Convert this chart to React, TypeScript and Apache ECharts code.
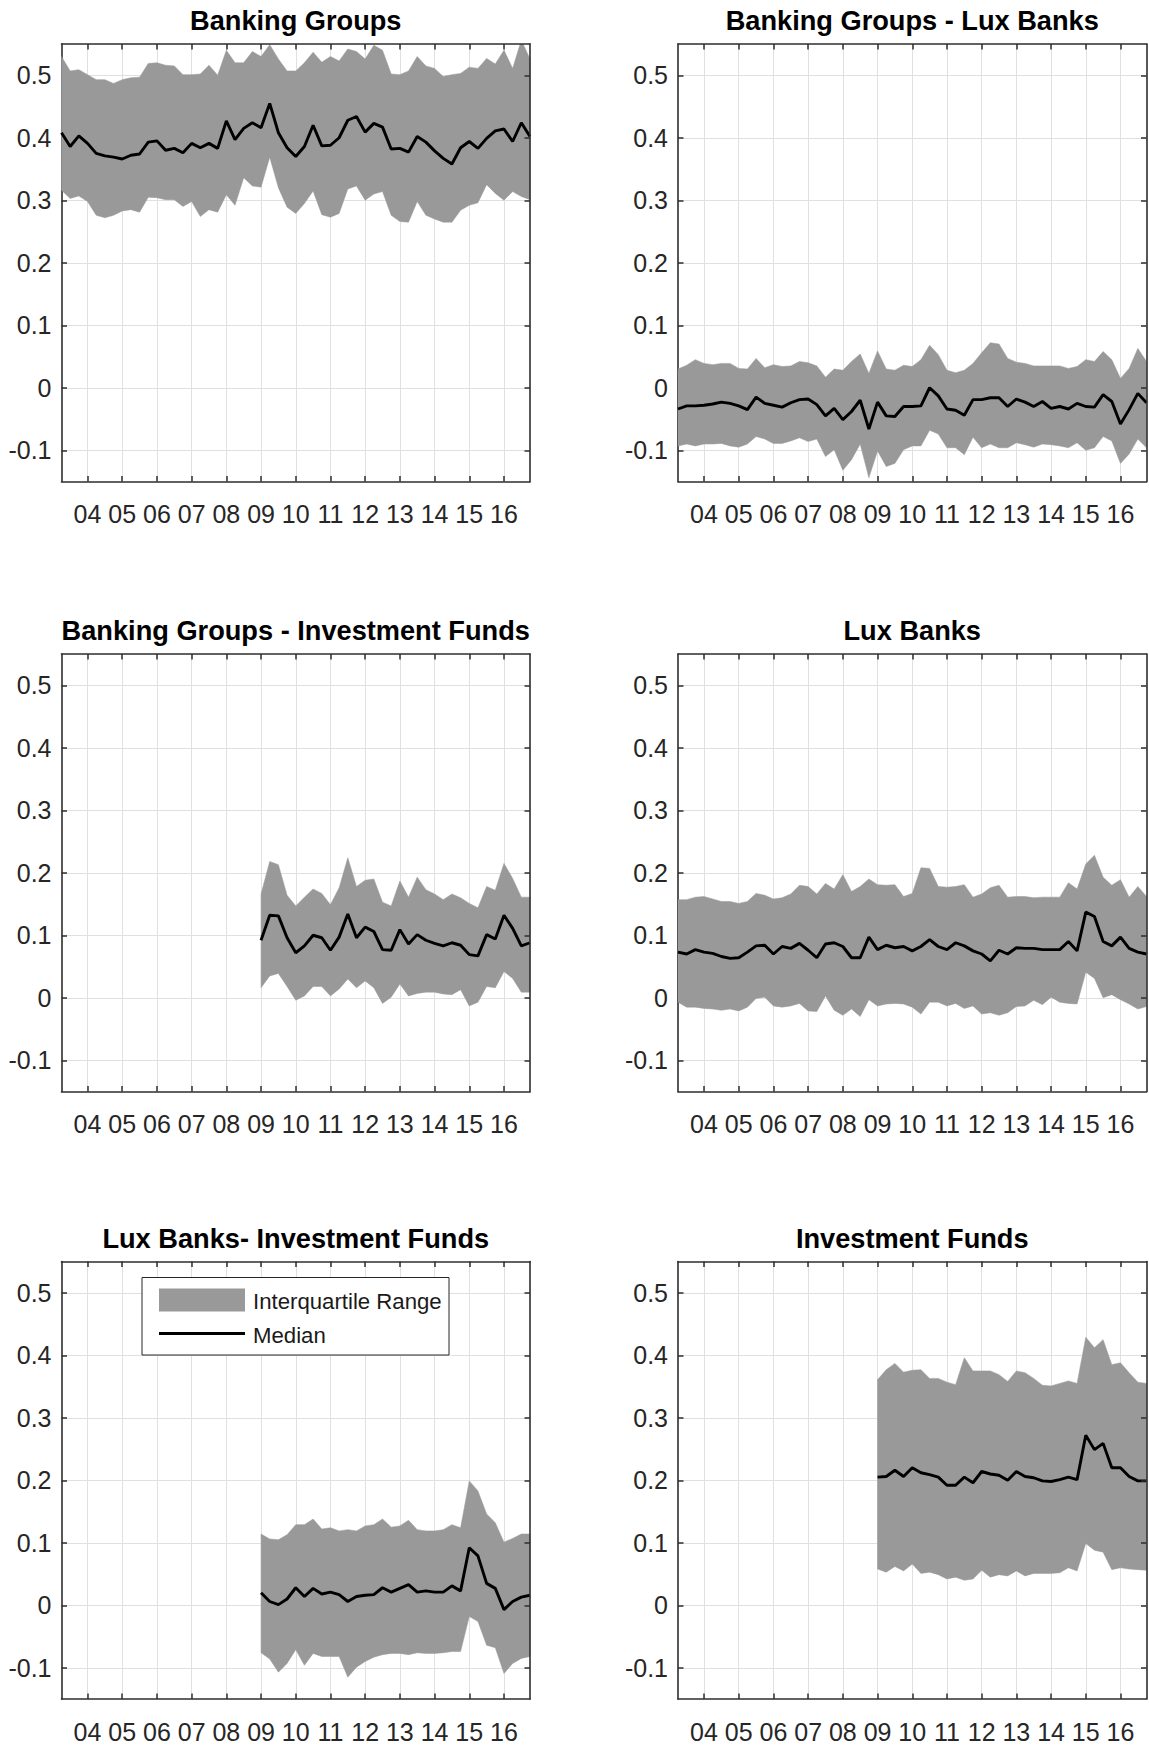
import React, { useEffect, useRef } from "react";
import * as echarts from "echarts";

// ---------- data ----------
const QUARTERS: string[] = [];
for (let y = 2003; y <= 2016; y++) {
  for (let q = 1; q <= 4; q++) {
    if (!(y === 2003 && q === 1)) QUARTERS.push(`${y}Q${q}`);
  }
}
const TICK_YEARS = [2004, 2005, 2006, 2007, 2008, 2009, 2010, 2011, 2012, 2013, 2014, 2015, 2016];
const TICK_LABELS = ["04", "05", "06", "07", "08", "09", "10", "11", "12", "13", "14", "15", "16"];
const Y_TICKS = [-0.1, 0, 0.1, 0.2, 0.3, 0.4, 0.5];
const Y_MIN = -0.15;
const Y_MAX = 0.55;

const FULL_START = "2003Q2";
const LATE_START = "2009Q1";

// Banking Groups
const bgMed = [0.408,0.386,0.403,0.391,0.375,0.371,0.369,0.366,0.372,0.374,0.393,0.395,0.380,0.383,0.376,0.391,0.384,0.391,0.383,0.427,0.397,0.415,0.424,0.416,0.455,0.408,0.384,0.370,0.386,0.420,0.387,0.388,0.400,0.428,0.434,0.409,0.423,0.417,0.382,0.383,0.377,0.402,0.393,0.379,0.367,0.358,0.384,0.394,0.383,0.399,0.411,0.414,0.394,0.424,0.402];
const bgHi = [0.530,0.507,0.509,0.501,0.493,0.493,0.487,0.493,0.496,0.497,0.519,0.520,0.516,0.515,0.501,0.501,0.502,0.516,0.500,0.540,0.520,0.520,0.538,0.530,0.549,0.526,0.507,0.507,0.520,0.537,0.521,0.530,0.523,0.542,0.538,0.526,0.548,0.540,0.502,0.501,0.507,0.530,0.515,0.511,0.498,0.501,0.503,0.513,0.511,0.527,0.518,0.540,0.511,0.556,0.526];
const bgLo = [0.316,0.303,0.307,0.298,0.276,0.272,0.276,0.283,0.285,0.281,0.305,0.304,0.301,0.301,0.290,0.298,0.274,0.285,0.281,0.309,0.292,0.336,0.323,0.321,0.369,0.320,0.289,0.279,0.295,0.315,0.277,0.273,0.279,0.318,0.323,0.300,0.310,0.314,0.276,0.266,0.265,0.298,0.276,0.270,0.265,0.265,0.284,0.292,0.296,0.325,0.311,0.300,0.314,0.306,0.301];

// Banking Groups - Lux Banks
const bgLuxMed = [-0.034,-0.029,-0.029,-0.028,-0.026,-0.023,-0.025,-0.029,-0.035,-0.015,-0.025,-0.028,-0.031,-0.024,-0.019,-0.018,-0.027,-0.045,-0.033,-0.051,-0.038,-0.020,-0.066,-0.023,-0.045,-0.046,-0.030,-0.030,-0.029,0.000,-0.013,-0.034,-0.036,-0.044,-0.019,-0.019,-0.016,-0.016,-0.030,-0.018,-0.023,-0.030,-0.022,-0.033,-0.030,-0.034,-0.025,-0.030,-0.031,-0.011,-0.022,-0.058,-0.035,-0.009,-0.024];
const bgLuxHi = [0.030,0.036,0.045,0.039,0.037,0.039,0.039,0.031,0.030,0.047,0.032,0.037,0.034,0.035,0.042,0.040,0.035,0.017,0.030,0.028,0.042,0.054,0.023,0.059,0.030,0.028,0.036,0.034,0.045,0.068,0.053,0.028,0.024,0.028,0.039,0.056,0.072,0.070,0.047,0.041,0.039,0.035,0.035,0.035,0.035,0.031,0.034,0.045,0.042,0.058,0.045,0.015,0.031,0.063,0.042];
const bgLuxLo = [-0.093,-0.090,-0.093,-0.090,-0.090,-0.089,-0.093,-0.095,-0.090,-0.078,-0.082,-0.089,-0.089,-0.085,-0.080,-0.086,-0.082,-0.110,-0.099,-0.132,-0.115,-0.090,-0.144,-0.101,-0.126,-0.121,-0.099,-0.093,-0.093,-0.068,-0.074,-0.096,-0.096,-0.107,-0.079,-0.096,-0.090,-0.096,-0.096,-0.088,-0.091,-0.095,-0.090,-0.091,-0.093,-0.096,-0.088,-0.100,-0.096,-0.078,-0.085,-0.121,-0.106,-0.082,-0.096];

// Banking Groups - Investment Funds (from 2009Q1)
const bgIfMed = [0.092,0.132,0.131,0.096,0.072,0.083,0.100,0.096,0.076,0.097,0.134,0.096,0.113,0.106,0.077,0.076,0.109,0.086,0.101,0.092,0.087,0.083,0.088,0.084,0.069,0.067,0.101,0.094,0.132,0.111,0.083,0.088];
const bgIfHi = [0.166,0.218,0.213,0.164,0.147,0.161,0.174,0.167,0.149,0.176,0.224,0.178,0.188,0.190,0.153,0.147,0.187,0.161,0.193,0.173,0.166,0.157,0.166,0.160,0.151,0.144,0.178,0.172,0.215,0.191,0.161,0.161];
const bgIfLo = [0.016,0.035,0.039,0.018,-0.004,0.003,0.018,0.018,0.003,0.014,0.030,0.016,0.027,0.016,-0.009,0.001,0.022,0.003,0.007,0.009,0.009,0.006,0.005,0.013,-0.013,-0.007,0.018,0.016,0.042,0.031,0.009,0.009];

// Lux Banks
const luxMed = [0.073,0.070,0.077,0.073,0.071,0.066,0.063,0.064,0.073,0.083,0.084,0.070,0.082,0.079,0.087,0.076,0.064,0.086,0.088,0.082,0.064,0.064,0.097,0.077,0.084,0.080,0.082,0.075,0.082,0.093,0.082,0.077,0.088,0.083,0.075,0.070,0.059,0.076,0.070,0.080,0.079,0.079,0.077,0.077,0.077,0.090,0.075,0.137,0.130,0.090,0.083,0.097,0.079,0.073,0.070];
const luxHi = [0.157,0.157,0.161,0.162,0.158,0.154,0.154,0.151,0.154,0.167,0.164,0.158,0.160,0.166,0.180,0.178,0.166,0.183,0.174,0.197,0.170,0.178,0.190,0.181,0.180,0.181,0.162,0.167,0.208,0.207,0.178,0.177,0.178,0.181,0.161,0.166,0.176,0.180,0.161,0.162,0.162,0.160,0.161,0.161,0.161,0.184,0.174,0.214,0.228,0.193,0.180,0.189,0.161,0.178,0.162];
const luxLo = [-0.007,-0.015,-0.015,-0.017,-0.018,-0.020,-0.018,-0.021,-0.015,-0.001,0.001,-0.013,-0.015,-0.013,-0.009,-0.021,-0.022,0.003,-0.020,-0.028,-0.018,-0.030,-0.003,-0.013,-0.010,-0.009,-0.010,-0.015,-0.026,-0.007,-0.007,-0.013,-0.009,-0.017,-0.013,-0.026,-0.024,-0.028,-0.024,-0.014,-0.013,-0.004,-0.011,0.001,-0.007,-0.009,-0.010,0.041,0.031,0.000,0.005,-0.003,-0.010,-0.018,-0.014];

// Lux Banks- Investment Funds (from 2009Q1)
const luxIfMed = [0.020,0.006,0.001,0.010,0.028,0.014,0.027,0.018,0.021,0.017,0.006,0.014,0.016,0.017,0.028,0.021,0.027,0.033,0.021,0.023,0.021,0.021,0.031,0.023,0.092,0.079,0.035,0.027,-0.007,0.006,0.013,0.016];
const luxIfHi = [0.114,0.106,0.105,0.113,0.129,0.129,0.138,0.122,0.124,0.119,0.121,0.119,0.127,0.129,0.138,0.125,0.127,0.136,0.121,0.119,0.119,0.121,0.129,0.124,0.199,0.183,0.146,0.132,0.101,0.107,0.114,0.114];
const luxIfLo = [-0.076,-0.086,-0.107,-0.093,-0.071,-0.096,-0.077,-0.082,-0.082,-0.082,-0.115,-0.099,-0.090,-0.083,-0.079,-0.077,-0.077,-0.079,-0.076,-0.077,-0.077,-0.076,-0.074,-0.074,-0.018,-0.026,-0.064,-0.068,-0.109,-0.093,-0.085,-0.082];

// Investment Funds (from 2009Q1)
const ifMed = [0.205,0.206,0.216,0.206,0.220,0.212,0.209,0.205,0.192,0.192,0.205,0.196,0.214,0.210,0.208,0.200,0.214,0.206,0.204,0.199,0.198,0.201,0.205,0.201,0.272,0.249,0.259,0.220,0.220,0.206,0.199,0.199];
const ifHi = [0.361,0.377,0.387,0.373,0.376,0.377,0.363,0.363,0.357,0.353,0.396,0.375,0.375,0.375,0.369,0.358,0.375,0.372,0.363,0.352,0.351,0.355,0.359,0.355,0.429,0.412,0.425,0.385,0.388,0.372,0.357,0.355];
const ifLo = [0.058,0.053,0.062,0.055,0.066,0.051,0.053,0.049,0.042,0.045,0.040,0.042,0.056,0.045,0.049,0.047,0.055,0.047,0.051,0.051,0.051,0.052,0.060,0.055,0.099,0.088,0.085,0.057,0.060,0.058,0.057,0.056];

const TITLES = [
  "Banking Groups",
  "Banking Groups - Lux Banks",
  "Banking Groups - Investment Funds",
  "Lux Banks",
  "Lux Banks- Investment Funds",
  "Investment Funds",
];
const STARTS = [FULL_START, FULL_START, LATE_START, FULL_START, LATE_START, LATE_START];
const MEDIANS = [bgMed, bgLuxMed, bgIfMed, luxMed, luxIfMed, ifMed];
const UPPERS = [bgHi, bgLuxHi, bgIfHi, luxHi, luxIfHi, ifHi];
const LOWERS = [bgLo, bgLuxLo, bgIfLo, luxLo, luxIfLo, ifLo];

const LEGEND_BAND = "Interquartile Range";
const LEGEND_LINE = "Median";

// ---------- styling / layout ----------
const FONT = "'Liberation Sans', Arial, Helvetica, sans-serif";
const BAND_COLOR = "#999999";
const AXIS_COLOR = "#2e2e2e";
const GRID_COLOR = "#e0e0e0";
const LABEL_COLOR = "#262626";
const LEFTS = [61.5, 678];
const TOPS = [44, 654, 1261.5];
const W = 468.5;
const H = 437.5;

const isYearStart = (_i: number, v: string) => String(v).endsWith("Q1");
const yearLabel = (v: string) => {
  const yr = parseInt(String(v).slice(0, 4), 10);
  const k = TICK_YEARS.indexOf(yr);
  return k >= 0 ? TICK_LABELS[k] : "";
};

function buildOption() {
  const grids: any[] = [];
  const xAxes: any[] = [];
  const yAxes: any[] = [];
  const series: any[] = [];
  const graphics: any[] = [];
  const n = TITLES.length;

  for (let i = 0; i < n; i++) {
    const left = LEFTS[i % 2];
    const top = TOPS[Math.floor(i / 2)];
    grids.push({ left, top, width: W, height: H, containLabel: false, outerBoundsMode: "none" });
    graphics.push({
      type: "text",
      x: left + W / 2,
      y: top - 23.5,
      z: 100,
      style: {
        text: TITLES[i],
        fontFamily: FONT,
        fontSize: 27.2,
        fontWeight: "bold",
        fill: "#000000",
        align: "center",
        verticalAlign: "middle",
      },
    });
  }

  // bottom x axes (labels, ticks, vertical grid)
  for (let i = 0; i < n; i++) {
    xAxes.push({
      type: "category",
      gridIndex: i,
      data: QUARTERS,
      boundaryGap: false,
      position: "bottom",
      z: 0,
      axisLine: { show: true, onZero: false, lineStyle: { color: AXIS_COLOR, width: 1.6 } },
      axisTick: { show: true, inside: true, length: 5.5, interval: isYearStart, lineStyle: { color: AXIS_COLOR, width: 1.5 } },
      axisLabel: {
        show: true,
        interval: isYearStart,
        formatter: yearLabel,
        fontSize: 25,
        fontFamily: FONT,
        color: LABEL_COLOR,
        margin: 20,
      },
      splitLine: { show: true, interval: isYearStart, lineStyle: { color: GRID_COLOR, width: 1 } },
    });
  }
  // top x axes (box + ticks)
  for (let i = 0; i < n; i++) {
    xAxes.push({
      type: "category",
      gridIndex: i,
      data: QUARTERS,
      boundaryGap: false,
      position: "top",
      z: 10,
      axisLine: { show: true, onZero: false, lineStyle: { color: AXIS_COLOR, width: 1.6 } },
      axisTick: { show: true, inside: true, length: 5.5, interval: isYearStart, lineStyle: { color: AXIS_COLOR, width: 1.5 } },
      axisLabel: { show: false },
      splitLine: { show: false },
    });
  }
  // left y axes
  for (let i = 0; i < n; i++) {
    yAxes.push({
      type: "value",
      gridIndex: i,
      min: Y_MIN,
      max: Y_MAX,
      position: "left",
      z: 0,
      axisLine: { show: true, onZero: false, lineStyle: { color: AXIS_COLOR, width: 1.6 } },
      axisTick: { show: true, inside: true, length: 5.5, customValues: Y_TICKS, lineStyle: { color: AXIS_COLOR, width: 1.5 } },
      axisLabel: {
        show: true,
        customValues: Y_TICKS,
        formatter: (v: number) => String(Math.round(v * 10) / 10),
        fontSize: 25,
        fontFamily: FONT,
        color: LABEL_COLOR,
        margin: 10,
      },
      splitLine: { show: true, lineStyle: { color: GRID_COLOR, width: 1 } },
    });
  }
  // right y axes
  for (let i = 0; i < n; i++) {
    yAxes.push({
      type: "value",
      gridIndex: i,
      min: Y_MIN,
      max: Y_MAX,
      position: "right",
      z: 10,
      axisLine: { show: true, onZero: false, lineStyle: { color: AXIS_COLOR, width: 1.6 } },
      axisTick: { show: true, inside: true, length: 5.5, customValues: Y_TICKS, lineStyle: { color: AXIS_COLOR, width: 1.5 } },
      axisLabel: { show: false },
      splitLine: { show: false },
    });
  }

  for (let i = 0; i < n; i++) {
    const start = QUARTERS.indexOf(STARTS[i]);
    const lo = LOWERS[i];
    const hi = UPPERS[i];
    const med = MEDIANS[i];
    series.push({
      type: "custom",
      name: LEGEND_BAND,
      xAxisIndex: i,
      yAxisIndex: i,
      clip: true,
      silent: true,
      z: 2,
      data: lo.map((v, j) => [start + j, v, hi[j]]),
      encode: { x: 0, y: [1, 2] },
      renderItem: (params: any, api: any) => {
        if (params.dataIndex !== 0) return null;
        const upper = hi.map((v, j) => api.coord([start + j, v]));
        const lower = lo.map((v, j) => api.coord([start + j, v])).reverse();
        return {
          type: "polygon",
          shape: { points: upper.concat(lower) },
          style: { fill: BAND_COLOR, stroke: BAND_COLOR, lineWidth: 0.5 },
        };
      },
    });
    series.push({
      type: "line",
      name: LEGEND_LINE,
      xAxisIndex: i,
      yAxisIndex: i,
      z: 3,
      symbol: "none",
      showSymbol: false,
      silent: true,
      clip: true,
      data: med.map((v, j) => [start + j, v]),
      lineStyle: { color: "#000000", width: 2.9 },
    });
  }

  // legend (drawn in the Lux Banks- Investment Funds panel)
  const lx = 142;
  const ly = 1277.5;
  graphics.push({
    type: "group",
    z: 100,
    children: [
      { type: "rect", z: 100, shape: { x: lx, y: ly, width: 307, height: 77.5 }, style: { fill: "#ffffff", stroke: "#262626", lineWidth: 1 } },
      { type: "rect", z: 101, shape: { x: lx + 17, y: ly + 11, width: 86, height: 23 }, style: { fill: BAND_COLOR } },
      { type: "line", z: 101, shape: { x1: lx + 17, y1: ly + 56, x2: lx + 103, y2: ly + 56 }, style: { stroke: "#000000", lineWidth: 2.9 } },
      {
        type: "text", z: 101, x: lx + 111, y: ly + 23.5,
        style: { text: LEGEND_BAND, fontFamily: FONT, fontSize: 22.2, fill: "#1a1a1a", align: "left", verticalAlign: "middle" },
      },
      {
        type: "text", z: 101, x: lx + 111, y: ly + 57.5,
        style: { text: LEGEND_LINE, fontFamily: FONT, fontSize: 22.2, fill: "#1a1a1a", align: "left", verticalAlign: "middle" },
      },
    ],
  });

  return {
    animation: false,
    backgroundColor: "#ffffff",
    textStyle: { fontFamily: FONT },
    grid: grids,
    xAxis: xAxes,
    yAxis: yAxes,
    series,
    graphic: { elements: graphics },
  };
}

export default function App() {
  const ref = useRef<HTMLDivElement>(null);
  useEffect(() => {
    if (!ref.current) return;
    const chart = echarts.init(ref.current, undefined, { renderer: "svg" });
    chart.setOption(buildOption() as any);
    return () => {
      chart.dispose();
    };
  }, []);
  return (
    <div
      ref={ref}
      style={{ position: "absolute", left: 0, top: 0, width: 1149, height: 1747, background: "#fff" }}
    />
  );
}
